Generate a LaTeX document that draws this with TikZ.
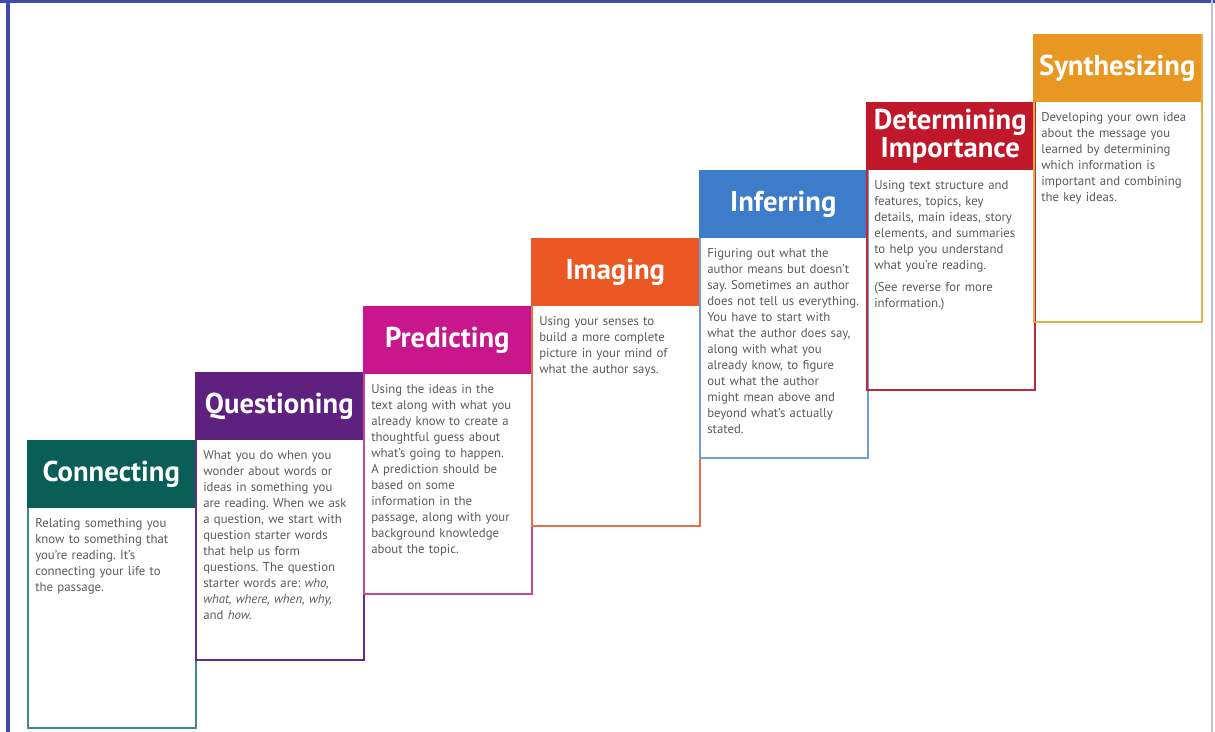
\documentclass[tikz,border=0pt]{standalone}
\usepackage{fontspec}
\setmainfont{PT Sans}
\usepackage{tikz}
\usetikzlibrary{positioning}

\definecolor{framecol}{RGB}{64,76,170}
\definecolor{concol}{RGB}{10,94,88}
\definecolor{conline}{RGB}{60,140,136}
\definecolor{quecol}{RGB}{94,33,128}
\definecolor{queline}{RGB}{100,45,140}
\definecolor{precol}{RGB}{200,23,140}
\definecolor{preline}{RGB}{200,70,150}
\definecolor{imgcol}{RGB}{235,88,36}
\definecolor{imgline}{RGB}{232,110,70}
\definecolor{infcol}{RGB}{60,124,200}
\definecolor{infline}{RGB}{110,160,215}
\definecolor{detcol}{RGB}{192,24,42}
\definecolor{detline}{RGB}{185,40,60}
\definecolor{syncol}{RGB}{232,152,34}
\definecolor{synline}{RGB}{230,175,70}
\definecolor{bodygrey}{RGB}{90,90,90}

\tikzset{
  stepbox/.style={draw, line width=1.3pt, anchor=north west, minimum width=126pt, minimum height=215.25pt, inner sep=0pt},
  headbox/.style={anchor=north west, minimum width=126pt, minimum height=51pt, inner sep=0pt, text=white, align=center, font=\fontsize{21.5}{21}\selectfont\bfseries},
  bodytext/.style={anchor=north west, inner sep=0pt, text width=118pt, align=left, text=bodygrey, font=\fontsize{9.6}{12}\selectfont}
}

\begin{document}
\frenchspacing
\begin{tikzpicture}[x=0.75pt,y=0.75pt,yscale=-1,xscale=1]
\useasboundingbox (0,0) rectangle (1215,732);

% Frame
\draw [color=framecol, line width=3pt] (8,0) -- (8,732) ;
\draw [color=framecol, line width=2.2pt] (0,1.5) -- (1215,1.5) ;
\draw [color=framecol!35, line width=1pt] (1212,0) -- (1212,732) ;

% Connecting
\node [stepbox, draw=conline] (con) at (27,440) {};
\node [headbox, fill=concol] (conhead) at (con.north west) {Connecting};
\node [bodytext] (context) at ([xshift=6pt,yshift=7pt]conhead.south west) {Relating something you\\know to something that\\you’re reading. It’s\\connecting your life to\\the passage.};

% Questioning
\node [stepbox, draw=queline] (que) at (195,372) {};
\node [headbox, fill=quecol] (quehead) at (que.north west) {Questioning};
\node [bodytext] (quetext) at ([xshift=6pt,yshift=7pt]quehead.south west) {What you do when you\\wonder about words or\\ideas in something you\\are reading. When we ask\\a question, we start with\\question starter words\\that help us form\\questions. The question\\starter words are: \textit{who,}\\\textit{what, where, when, why,}\\and \textit{how.}};

% Predicting
\node [stepbox, draw=preline] (pre) at (363,306) {};
\node [headbox, fill=precol] (prehead) at (pre.north west) {Predicting};
\node [bodytext] (pretext) at ([xshift=6pt,yshift=7pt]prehead.south west) {Using the ideas in the\\text along with what you\\already know to create a\\thoughtful guess about\\what’s going to happen.\\A prediction should be\\based on some\\information in the\\passage, along with your\\background knowledge\\about the topic.};

% Imaging
\node [stepbox, draw=imgline] (img) at (531,238) {};
\node [headbox, fill=imgcol] (imghead) at (img.north west) {Imaging};
\node [bodytext] (imgtext) at ([xshift=6pt,yshift=7pt]imghead.south west) {Using your senses to\\build a more complete\\picture in your mind of\\what the author says.};

% Inferring
\node [stepbox, draw=infline] (inf) at (699,170) {};
\node [headbox, fill=infcol] (infhead) at (inf.north west) {Inferring};
\node [bodytext] (inftext) at ([xshift=6pt,yshift=7pt]infhead.south west) {Figuring out what the\\author means but doesn’t\\say. Sometimes an author\\does not tell us everything.\\You have to start with\\what the author does say,\\along with what you\\already know, to figure\\out what the author\\might mean above and\\beyond what’s actually\\stated.};

% Determining Importance
\node [stepbox, draw=detline] (det) at (866,102) {};
\node [headbox, fill=detcol] (dethead) at (det.north west) {Determining\\Importance};
\node [bodytext] (dettext) at ([xshift=6pt,yshift=7pt]dethead.south west) {Using text structure and\\features, topics, key\\details, main ideas, story\\elements, and summaries\\to help you understand\\what you’re reading.\\[5pt](See reverse for more\\information.)};

% Synthesizing
\node [stepbox, draw=synline] (syn) at (1033,34) {};
\node [headbox, fill=syncol] (synhead) at (syn.north west) {Synthesizing};
\node [bodytext] (syntext) at ([xshift=6pt,yshift=7pt]synhead.south west) {Developing your own idea\\about the message you\\learned by determining\\which information is\\important and combining\\the key ideas.};

\end{tikzpicture}
\end{document}
